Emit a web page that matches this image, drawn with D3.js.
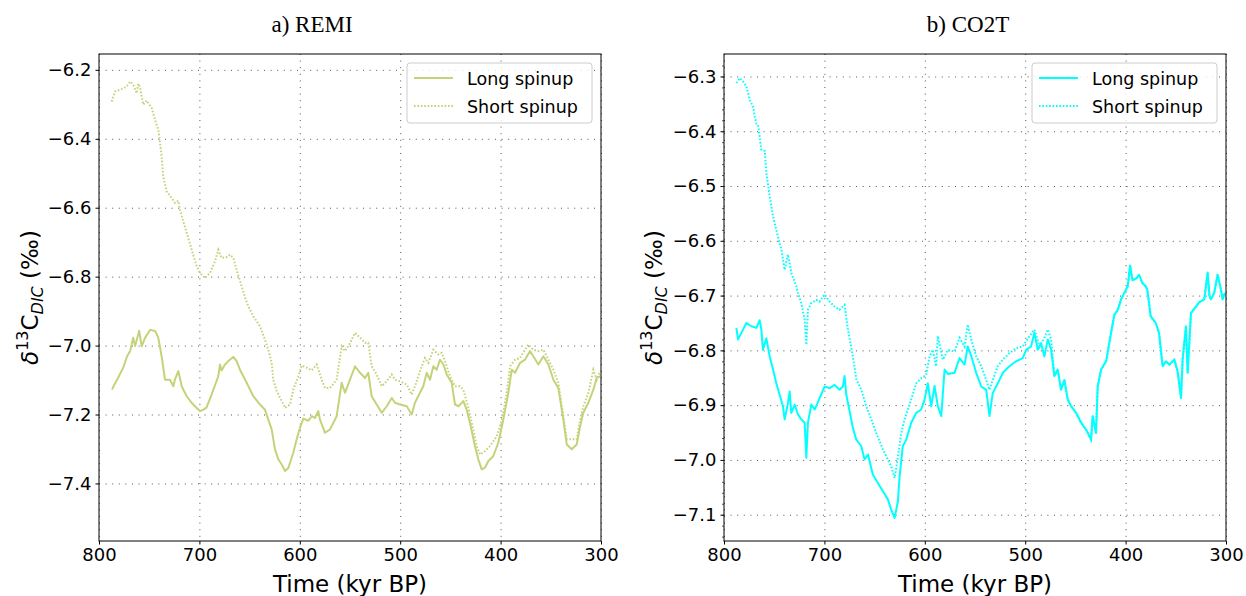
<!DOCTYPE html>
<html>
<head>
<meta charset="utf-8">
<script src="https://cdn.jsdelivr.net/npm/d3@7"></script>
<style>
  body { margin: 0; background: #fff; }
  svg { display: block; }
  text { font-family: "DejaVu Sans", sans-serif; fill: #000; }
</style>
</head>
<body>
<script>
const xTicks = [800, 700, 600, 500, 400, 300];
const remiYTicks = [-6.2, -6.4, -6.6, -6.8, -7.0, -7.2, -7.4];
const co2tYTicks = [-6.3, -6.4, -6.5, -6.6, -6.7, -6.8, -6.9, -7.0, -7.1];
const legendLabels = ['Long spinup', 'Short spinup'];

// [time kyr BP, d13C]
const remiLong = [
  [787,-7.128],[785,-7.115],[782,-7.099],[776,-7.065],[772,-7.031],[769,-7.016],[766,-6.977],[764,-7.001],
  [760,-6.957],[757.5,-7.002],[754,-6.977],[749,-6.954],[744,-6.958],[741,-6.977],[737.6,-7.031],[734.3,-7.099],
  [729.3,-7.099],[726,-7.118],[724.4,-7.099],[721,-7.074],[717.6,-7.118],[716,-7.128],[712.6,-7.147],[707.7,-7.166],
  [702.7,-7.181],[699.4,-7.19],[696,-7.186],[693,-7.18],[687.8,-7.142],[681.2,-7.089],[679.5,-7.055],[677.9,-7.072],
  [674.5,-7.055],[671.2,-7.045],[666.2,-7.033],[662.9,-7.045],[659.6,-7.07],[652.9,-7.108],[646.3,-7.147],[639.6,-7.171],
  [634.7,-7.186],[631.4,-7.215],[628,-7.243],[624.7,-7.301],[621.4,-7.33],[618,-7.345],[614.7,-7.364],[611.4,-7.355],
  [606.5,-7.311],[603.1,-7.272],[599.8,-7.238],[596.5,-7.212],[591.5,-7.218],[588.1,-7.205],[585,-7.21],[581.6,-7.19],
  [579.9,-7.215],[574.9,-7.253],[569.9,-7.243],[563.3,-7.205],[558.3,-7.108],[555,-7.137],[550,-7.099],[545,-7.06],
  [540,-7.079],[535,-7.094],[531.8,-7.079],[528.4,-7.147],[523.4,-7.171],[518.4,-7.195],[513.4,-7.176],[508.4,-7.152],
  [505.2,-7.166],[500.2,-7.171],[493.5,-7.176],[488.5,-7.2],[485.3,-7.166],[480.3,-7.137],[477,-7.118],[473.6,-7.079],
  [470.3,-7.099],[467,-7.06],[463.7,-7.07],[460.4,-7.041],[457,-7.055],[453.7,-7.084],[448.7,-7.108],[445.4,-7.171],
  [442,-7.176],[437.1,-7.161],[433.8,-7.186],[430.5,-7.224],[425.5,-7.292],[422.2,-7.33],[418.8,-7.359],[415.5,-7.354],
  [412.2,-7.335],[407.3,-7.321],[402.3,-7.282],[397.3,-7.215],[392.3,-7.137],[388.9,-7.07],[385.6,-7.079],[380.6,-7.05],
  [375.7,-7.041],[370.7,-7.016],[367.4,-7.031],[362.4,-7.055],[357.4,-7.031],[352.4,-7.055],[347.4,-7.099],[342.5,-7.123],
  [337.5,-7.215],[334.1,-7.287],[329.2,-7.301],[324.2,-7.287],[320.8,-7.234],[317.6,-7.195],[312.6,-7.166],[307.6,-7.128],
  [304.3,-7.094],[301,-7.089]
];

const remiShort = [
  [787.4,-6.292],[784.1,-6.263],[777.4,-6.256],[772.4,-6.248],[769.1,-6.234],[765.8,-6.243],[762.5,-6.268],[760.9,-6.24],
  [759.2,-6.25],[755.9,-6.301],[752.6,-6.289],[747.5,-6.311],[744.2,-6.345],[740.9,-6.374],[739.2,-6.412],[737.6,-6.451],
  [736,-6.509],[732.6,-6.553],[727.6,-6.572],[724.3,-6.586],[721,-6.58],[719.3,-6.606],[716,-6.64],[712.6,-6.673],
  [707.7,-6.722],[702.7,-6.77],[699.4,-6.789],[694.4,-6.804],[689.4,-6.789],[684.5,-6.756],[681.2,-6.722],[677.9,-6.746],
  [672.8,-6.743],[669.5,-6.736],[666.2,-6.746],[662.9,-6.78],[659.6,-6.812],[654.6,-6.86],[651.3,-6.886],[646.3,-6.915],
  [639.6,-6.944],[634.7,-6.983],[631.4,-7.012],[628,-7.05],[626.4,-7.099],[623,-7.132],[618,-7.161],[614.7,-7.181],
  [609.8,-7.171],[606.5,-7.128],[601.5,-7.089],[598.1,-7.058],[593.1,-7.064],[588.1,-7.072],[583.2,-7.055],[578.2,-7.099],
  [574.9,-7.123],[569.9,-7.123],[563.3,-7.099],[558.3,-7.002],[555,-7.016],[550,-6.993],[545,-6.963],[540,-6.977],
  [535,-6.992],[531.8,-6.992],[528.4,-7.06],[523.4,-7.084],[518.4,-7.118],[513.4,-7.103],[508.4,-7.084],[505.2,-7.099],
  [500.2,-7.104],[493.5,-7.113],[488.5,-7.142],[485.3,-7.118],[480.3,-7.074],[475.3,-7.036],[472,-7.05],[467,-7.012],
  [462,-7.026],[458.7,-7.021],[455.4,-7.045],[450.4,-7.089],[445.4,-7.118],[440.4,-7.118],[437.1,-7.128],[432.1,-7.181],
  [427.2,-7.243],[423.8,-7.292],[420.5,-7.316],[415.5,-7.306],[410.6,-7.292],[403.9,-7.263],[398.9,-7.219],[393.9,-7.137],
  [390.6,-7.06],[385.6,-7.041],[380.6,-7.036],[375.7,-7.012],[372.3,-6.997],[367.4,-7.012],[362.4,-7.016],[357.4,-7.012],
  [352.4,-7.041],[347.4,-7.07],[342.5,-7.108],[337.5,-7.205],[334.1,-7.272],[329.2,-7.272],[324.2,-7.272],[320.8,-7.215],
  [317.6,-7.176],[312.6,-7.137],[307.6,-7.07],[304.3,-7.099],[301,-7.074]
];

const co2tLong = [
  [787.7,-6.759],[786,-6.78],[782.7,-6.768],[777.7,-6.75],[772.7,-6.756],[767.7,-6.759],[764.5,-6.745],[762.8,-6.762],
  [761.2,-6.799],[757.8,-6.778],[754.5,-6.811],[751.2,-6.835],[747.9,-6.86],[744.6,-6.881],[741.3,-6.902],[739.6,-6.926],
  [736.3,-6.896],[734.6,-6.875],[733,-6.914],[729.6,-6.899],[726.3,-6.917],[723,-6.926],[719.7,-6.932],[718,-6.996],
  [716.4,-6.932],[713,-6.899],[709.7,-6.908],[704.8,-6.887],[699.8,-6.866],[694.8,-6.869],[689.9,-6.863],[684.9,-6.872],
  [681.6,-6.866],[679.9,-6.847],[678.2,-6.881],[674.9,-6.911],[671.6,-6.942],[668.2,-6.963],[663.3,-6.975],[660,-6.999],
  [656.6,-6.99],[651.7,-7.027],[646.7,-7.042],[641.7,-7.057],[636.8,-7.072],[633.4,-7.091],[630.1,-7.106],[626.8,-7.076],
  [625.1,-7.03],[621.9,-6.975],[618.5,-6.963],[613.5,-6.932],[608.5,-6.914],[603.6,-6.908],[600.2,-6.89],[597,-6.86],
  [593.6,-6.902],[590.3,-6.865],[587,-6.902],[583.6,-6.92],[580.3,-6.835],[577,-6.843],[570.4,-6.841],[565.4,-6.814],
  [560.4,-6.826],[557.2,-6.793],[553.8,-6.81],[548.8,-6.841],[543.8,-6.866],[538.8,-6.872],[535.6,-6.92],[532.3,-6.878],
  [527.3,-6.86],[522.3,-6.841],[515.7,-6.829],[509.1,-6.82],[502.4,-6.814],[499.1,-6.799],[494.2,-6.793],[490.8,-6.768],
  [487.5,-6.799],[484.2,-6.787],[480.9,-6.811],[477.5,-6.78],[474.2,-6.799],[470.9,-6.847],[467.6,-6.835],[464.3,-6.872],
  [461,-6.854],[457.6,-6.89],[454.3,-6.902],[449.3,-6.914],[444.3,-6.932],[439.3,-6.945],[434.4,-6.963],[432.8,-6.92],
  [429.5,-6.951],[427.8,-6.866],[424.4,-6.835],[419.4,-6.82],[414.5,-6.768],[411.2,-6.735],[407.8,-6.726],[404.5,-6.707],
  [401.2,-6.695],[397.9,-6.683],[395.5,-6.645],[393.2,-6.672],[389,-6.668],[386.6,-6.662],[383.3,-6.677],[380,-6.683],
  [378.3,-6.69],[375,-6.738],[370,-6.75],[366.7,-6.768],[363.1,-6.829],[359.8,-6.82],[356.4,-6.826],[351.5,-6.817],
  [348.2,-6.838],[344.8,-6.887],[343.2,-6.817],[339.9,-6.756],[338.2,-6.841],[334.9,-6.732],[329.9,-6.72],[326.6,-6.712],
  [321.6,-6.707],[318.3,-6.658],[316.5,-6.7],[315,-6.707],[311.7,-6.695],[308.4,-6.662],[305,-6.689],[303.4,-6.707],
  [301,-6.695]
];

// short spinup joins the long run after ~474 kyr BP
const co2tShortHead = [
  [787.7,-6.312],[784.4,-6.303],[781.1,-6.309],[777.7,-6.318],[774.4,-6.343],[771.1,-6.355],[769.4,-6.373],[767.7,-6.386],
  [766.1,-6.388],[762.8,-6.434],[759.4,-6.436],[757.8,-6.476],[754.5,-6.519],[751.2,-6.555],[746.3,-6.592],[742.9,-6.616],
  [739.6,-6.653],[736.3,-6.625],[732.9,-6.659],[728,-6.683],[726.3,-6.695],[723,-6.714],[719.7,-6.744],[718,-6.79],
  [716.4,-6.726],[713,-6.714],[708,-6.708],[704.8,-6.711],[699.8,-6.698],[694.8,-6.711],[689.9,-6.72],[684.9,-6.726],
  [679.9,-6.717],[676.6,-6.762],[671.6,-6.811],[668.2,-6.853],[663.3,-6.872],[658.3,-6.902],[653.3,-6.926],[648.3,-6.951],
  [641.7,-6.981],[636.8,-6.999],[633.4,-7.012],[630.1,-7.033],[626.8,-6.995],[623.5,-6.951],[620.2,-6.926],[615.2,-6.899],
  [608.5,-6.86],[603.6,-6.851],[598.6,-6.845],[595.3,-6.811],[592,-6.799],[588.7,-6.829],[587,-6.774],[582,-6.817],
  [577,-6.799],[570.4,-6.802],[565.4,-6.777],[560.4,-6.793],[557.2,-6.753],[553.8,-6.78],[548.8,-6.811],[543.8,-6.829],
  [538.8,-6.854],[535.6,-6.872],[532.3,-6.854],[527.3,-6.829],[522.3,-6.817],[515.7,-6.805],[509.1,-6.796],[502.4,-6.793],
  [495.8,-6.774],[490.8,-6.762],[485.8,-6.793],[480.9,-6.777],[477.5,-6.762],[474.2,-6.78]
];
const co2tShort = co2tShortHead.concat(co2tLong.filter(d => d[0] < 474));

const W = 1246, H = 596;
const svg = d3.select('body').append('svg').attr('width', W).attr('height', H);

function drawPanel(p) {
  const w = p.width, h = p.height;
  const g = svg.append('g').attr('transform', `translate(${p.left}, ${p.top})`);

  const x = d3.scaleLinear().domain([800, 300]).range([0, w]);
  const y = d3.scaleLinear().domain(p.yDomain).range([h, 0]);

  const clipId = 'clip-' + p.id;
  g.append('clipPath').attr('id', clipId).append('rect').attr('width', w).attr('height', h);

  // grid
  g.append('g')
    .attr('class', 'grid')
    .call(d3.axisBottom(x).tickValues(xTicks).tickSize(h).tickFormat(''))
    .call(a => a.select('.domain').remove());
  g.append('g')
    .attr('class', 'grid')
    .call(d3.axisRight(y).tickValues(p.yTicks).tickSize(w).tickFormat(''))
    .call(a => a.select('.domain').remove());
  g.selectAll('.grid line')
    .attr('stroke', '#555')
    .attr('stroke-width', 1)
    .attr('stroke-dasharray', '1,5.6');

  // lines
  const line = d3.line().x(d => x(d[0])).y(d => y(d[1]));
  const plot = g.append('g').attr('clip-path', `url(#${clipId})`);
  plot.append('path')
    .datum(p.long)
    .attr('fill', 'none')
    .attr('stroke', p.color)
    .attr('stroke-width', 2)
    .attr('stroke-linejoin', 'round')
    .attr('d', line);
  plot.append('path')
    .datum(p.short)
    .attr('fill', 'none')
    .attr('stroke', p.color)
    .attr('stroke-width', 2)
    .attr('stroke-dasharray', '1.6,1.8')
    .attr('d', line);

  // axes
  const xAxis = g.append('g')
    .attr('transform', `translate(0, ${h})`)
    .call(d3.axisBottom(x).tickValues(xTicks).tickSize(3.5).tickPadding(4).tickFormat(d3.format('d')));
  const yAxis = g.append('g')
    .call(d3.axisLeft(y).tickValues(p.yTicks).tickSize(3.5).tickPadding(4).tickFormat(d3.format('.1f')));
  [xAxis, yAxis].forEach(a => {
    a.select('.domain').remove();
    a.selectAll('text').style('font-size', '18px').attr('fill', '#000');
    a.selectAll('line').attr('stroke', '#000');
  });

  if (p.minor) {
    g.append('g')
      .call(d3.axisLeft(y).tickValues(p.minor).tickSize(2).tickFormat(''))
      .call(a => a.select('.domain').remove())
      .selectAll('line').attr('stroke', '#333').attr('stroke-width', 0.8);
  }

  // frame
  g.append('rect')
    .attr('width', w).attr('height', h)
    .attr('fill', 'none').attr('stroke', '#000').attr('stroke-width', 1);

  // title
  g.append('text')
    .attr('x', p.titleX).attr('y', -22)
    .attr('text-anchor', 'middle')
    .style('font-family', '"Liberation Serif", "Times New Roman", serif')
    .style('font-size', '23px')
    .text(p.title);

  // x label
  g.append('text')
    .attr('x', w / 2).attr('y', h + 51)
    .attr('text-anchor', 'middle')
    .style('font-size', '23px')
    .text('Time (kyr BP)');

  // y label
  const yl = g.append('text')
    .attr('transform', `translate(${p.ylabelX}, ${h / 2}) rotate(-90)`)
    .attr('text-anchor', 'middle')
    .style('font-size', '23px');
  yl.append('tspan').style('font-style', 'italic').text('δ');
  yl.append('tspan').attr('dy', -10).style('font-size', '16px').text('13');
  yl.append('tspan').attr('dy', 10).text('C');
  yl.append('tspan').attr('dy', 5).style('font-size', '16px').style('font-style', 'italic').text('DIC');
  yl.append('tspan').attr('dy', -5).text(' (‰)');

  // legend
  const lg = g.append('g').attr('transform', `translate(${w - 194}, 9)`);
  lg.append('rect')
    .attr('width', 185).attr('height', 60).attr('rx', 3)
    .attr('fill', '#fff').attr('fill-opacity', 0.8)
    .attr('stroke', '#ccc').attr('stroke-width', 1);
  legendLabels.forEach((lab, i) => {
    const yy = 15 + i * 28;
    lg.append('line')
      .attr('x1', 7).attr('x2', 46).attr('y1', yy).attr('y2', yy)
      .attr('stroke', p.color).attr('stroke-width', 2)
      .attr('stroke-dasharray', i === 1 ? '1.6,1.8' : null);
    lg.append('text')
      .attr('x', 60).attr('y', yy + 6.5)
      .style('font-size', '17.5px')
      .text(lab);
  });
}

drawPanel({
  id: 'remi', left: 99, top: 54, width: 502, height: 487,
  yDomain: [-7.567, -6.154], yTicks: remiYTicks,
  long: remiLong, short: remiShort, color: '#c6d27a',
  title: 'a) REMI', titleX: 213, ylabelX: -61
});

drawPanel({
  id: 'co2t', left: 724, top: 54, width: 502, height: 487,
  yDomain: [-7.148, -6.259], yTicks: co2tYTicks,
  minor: d3.range(-7.14, -6.26, 0.02),
  long: co2tLong, short: co2tShort, color: '#00ffff',
  title: 'b) CO2T', titleX: 244, ylabelX: -62
});
</script>
</body>
</html>
